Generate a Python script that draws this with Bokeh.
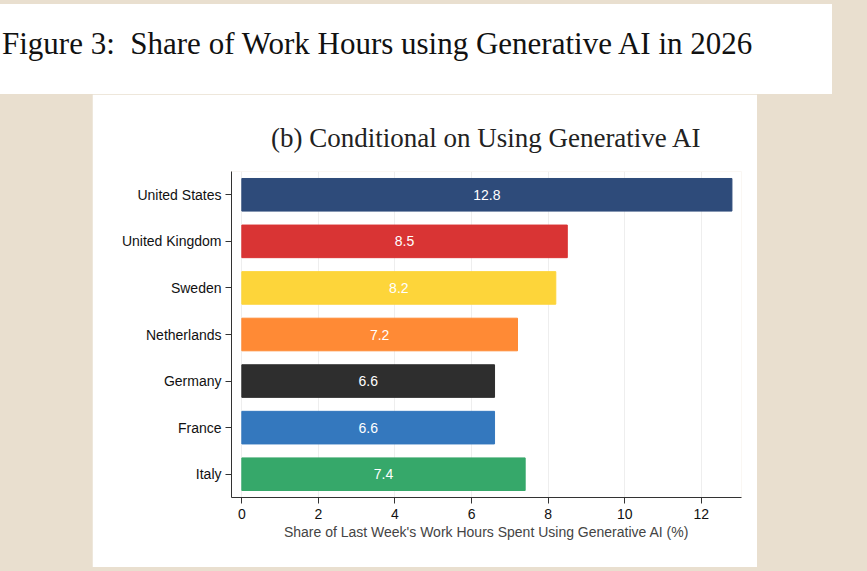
from bokeh.plotting import figure
from bokeh.models import Div, ColumnDataSource, FixedTicker
from bokeh.layouts import column
from bokeh.embed import file_html
from bokeh.resources import INLINE
from bokeh.core.properties import value

countries = ["United States", "United Kingdom", "Sweden", "Netherlands", "Germany", "France", "Italy"]
shares = [12.8, 8.5, 8.2, 7.2, 6.6, 6.6, 7.4]
colors = ["#2e4b7a", "#d93434", "#fdd53a", "#ff8a35", "#2e2e2e", "#3478be", "#36a86a"]
labels = [f"{v:.1f}" for v in shares]
xticks = [0, 2, 4, 6, 8, 10, 12]

src = ColumnDataSource(dict(c=countries, v=shares, col=colors, lab=labels, mid=[v / 2 for v in shares]))

title = Div(text="Figure 3:&nbsp; Share of Work Hours using Generative AI in 2026", width=832, height=90,
            margin=(4, 0, 0, 0),
            styles={"background": "white", "font-family": "Liberation Serif", "font-size": "31px",
                    "padding": "18px 0 0 2px", "box-sizing": "border-box", "color": "#111"})

p = figure(y_range=list(reversed(countries)), x_range=(-0.27, 13.05), width=665, height=473,
           output_backend="svg", toolbar_location=None, margin=(0, 0, 0, 92),
           min_border_left=139, min_border_right=16, min_border_top=77, min_border_bottom=70)
p.title.text = "(b) Conditional on Using Generative AI"
p.title.text_font = "Liberation Serif"
p.title.text_font_size = "27px"
p.title.text_font_style = "normal"
p.title.align = "center"
p.title.offset = -118
p.title.standoff = 38
p.title.text_color = "#222"
p.hbar(y="c", right="v", left=0, height=0.7, color="col", source=src)
p.text(x="mid", y="c", text="lab", source=src, text_color="white", text_align="center",
       text_baseline="middle", text_font=value("Liberation Sans"), text_font_size="14px")
p.outline_line_color = None
p.ygrid.grid_line_color = None
p.xgrid.grid_line_color = "#eeeeee"
p.xaxis.ticker = FixedTicker(ticks=xticks)
p.xaxis.axis_label = "Share of Last Week's Work Hours Spent Using Generative AI (%)"
for ax in (p.xaxis[0], p.yaxis[0]):
    ax.major_label_text_font = "Liberation Sans"
    ax.major_label_text_font_size = "14px"
    ax.major_label_text_color = "#111"
    ax.axis_line_color = "#333"
    ax.major_tick_line_color = "#333"
    ax.major_tick_out = 6
    ax.major_tick_in = 0
    ax.minor_tick_line_color = None
p.xaxis.axis_label_text_font = "Liberation Sans"
p.xaxis.axis_label_text_font_size = "14px"
p.xaxis.axis_label_text_font_style = "normal"
p.xaxis.axis_label_standoff = 2
p.yaxis.major_label_standoff = 4

html = file_html(column(title, p, spacing=0), INLINE)
html = html.replace("</head>", "<style>html, body { background: #e9dfcf !important; }</style></head>", 1)
open("out.html", "w").write(html)
